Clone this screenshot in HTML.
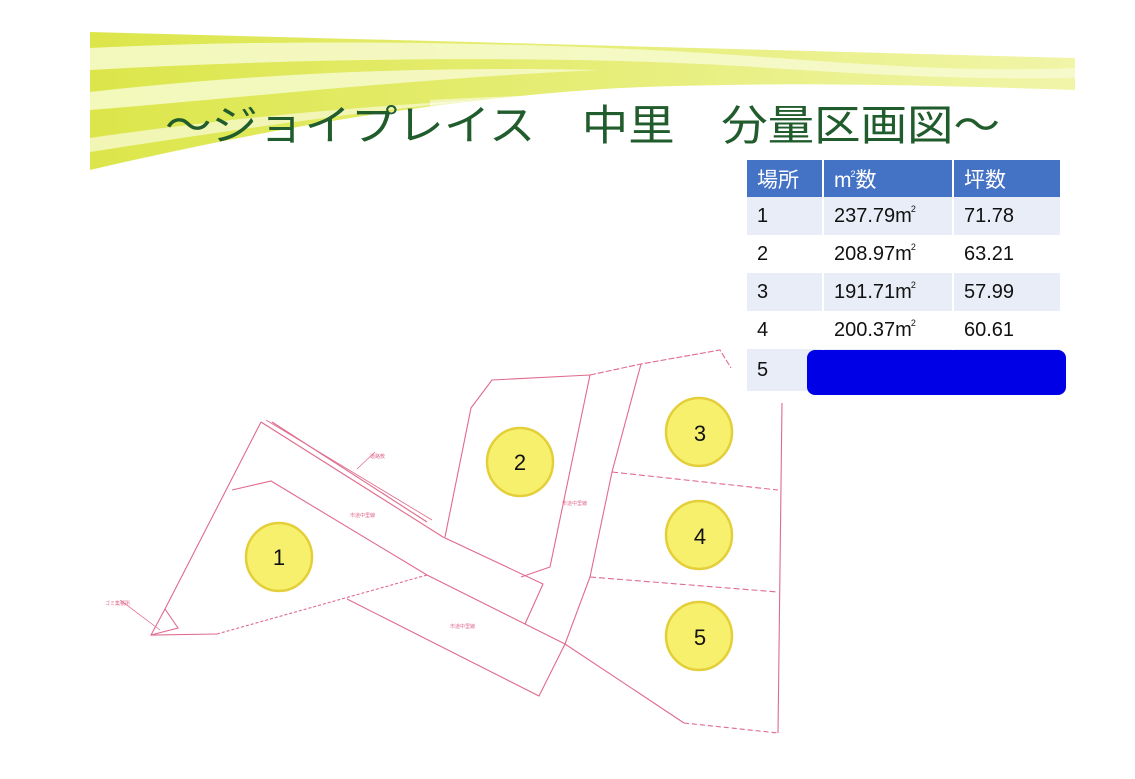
<!DOCTYPE html>
<html><head><meta charset="utf-8"><style>
body{margin:0;width:1135px;height:779px;background:#fff;overflow:hidden;position:relative;font-family:"Liberation Sans","Noto Sans CJK JP",sans-serif}
svg{position:absolute;left:0;top:0}
table{position:absolute;left:747px;top:160px;border-collapse:collapse;font-size:20px;color:#111}
td{height:38px;padding:0 0 0 10px;border-right:2px solid #fff;box-sizing:border-box}
tr.h td{background:#4472c4;color:#fff;height:37px;font-size:21px}
tr.a td{background:#e8edf7}
sup{font-size:9px;vertical-align:10px;margin-left:-1px}
</style></head><body>
<svg width="1135" height="779">
<defs>
<linearGradient id="g1" x1="0" x2="1" y1="0" y2="0">
<stop offset="0" stop-color="#dce64a"/><stop offset="0.6" stop-color="#e8ef80"/><stop offset="1" stop-color="#f0f5a8"/></linearGradient>
</defs>
<path d="M90,32 L1075,58 L1075,90 C900,84 760,82 620,88 C420,100 240,135 90,170 Z" fill="url(#g1)"/>
<path d="M90,48 C300,38 550,42 750,56 C880,66 980,72 1075,68 L1075,78 C960,80 860,74 740,66 C550,55 300,58 90,70 Z" fill="#f7fad0" opacity="0.85"/>
<path d="M90,92 C250,74 420,66 600,70 C420,78 240,98 90,110 Z" fill="#f5f9c8" opacity="0.9"/>
<path d="M90,138 C200,122 330,108 480,100 C330,115 200,135 90,152 Z" fill="#f3f7c0" opacity="0.9"/>
<path d="M430,100 C650,88 900,92 1075,96 L1075,160 L430,160 Z" fill="#fff" opacity="0.5"/>
<text x="165" y="140" textLength="835" lengthAdjust="spacingAndGlyphs" font-family="Liberation Sans, Noto Sans CJK JP, sans-serif" font-size="42" fill="#215c2c">～ジョイプレイス　中里　分量区画図～</text>
<g stroke="#e06a8c" stroke-width="1.1" fill="none">
<polyline points="261,422 165,609 151,635 217,634"/>
<polyline points="217,634 427,575" stroke-dasharray="3,2"/>
<polyline points="232,490 271,481 427,575 565,644 684,723"/>
<polyline points="684,723 778,733" stroke-dasharray="5,3"/>
<polyline points="261,422 443,537 543,584 525,624"/>
<polyline points="272,422 427,522"/>
<polyline points="266,420 432,520" stroke-width="0.8"/>
<polyline points="165,609 178,628 151,635"/>
<polyline points="347,599 539,696 565,644 590,577 612,472 641,364"/>
<polyline points="445,537 471,408 492,380 590,375"/>
<polyline points="590,375 641,364 720,350 731,368" stroke-dasharray="6,2"/>
<polyline points="590,375 550,567 521,577"/>
<polyline points="782,403 778,733"/>
<polyline points="612,472 778,490" stroke-dasharray="6,3"/>
<polyline points="590,577 778,592" stroke-dasharray="6,3"/>
<polyline points="357,469 375,452" stroke-width="0.7"/>
<polyline points="120,600 160,630" stroke-width="0.7"/>
</g>
<g font-size="5" fill="#e06a8c"><text x="370" y="458">道路敷</text><text x="350" y="517">市道中里線</text><text x="450" y="628">市道中里線</text><text x="562" y="505">市道中里線</text><text x="105" y="605">ゴミ集積所</text></g>
<g fill="#f7f06c" stroke="#e4cf3a" stroke-width="2.5">
<ellipse cx="279" cy="557" rx="33" ry="34"/><ellipse cx="520" cy="462" rx="33" ry="34"/>
<ellipse cx="699" cy="432" rx="33" ry="34"/><ellipse cx="699" cy="535" rx="33" ry="34"/><ellipse cx="699" cy="636" rx="33" ry="34"/>
</g>
<g font-size="22" fill="#111" text-anchor="middle"><text x="279" y="565">1</text><text x="520" y="470">2</text><text x="700" y="441">3</text><text x="700" y="544">4</text><text x="700" y="645">5</text></g>
</svg>
<table>
<tr class="h"><td style="width:76px">場所</td><td style="width:130px">m<sup>2</sup>数</td><td style="width:108px">坪数</td></tr>
<tr class="a"><td>1</td><td>237.79m<sup>2</sup></td><td>71.78</td></tr>
<tr><td>2</td><td>208.97m<sup>2</sup></td><td>63.21</td></tr>
<tr class="a"><td>3</td><td>191.71m<sup>2</sup></td><td>57.99</td></tr>
<tr><td>4</td><td>200.37m<sup>2</sup></td><td>60.61</td></tr>
<tr class="a"><td style="height:42px">5</td><td></td><td></td></tr>
</table>
<div style="position:absolute;left:807px;top:350px;width:259px;height:45px;background:#0000e6;border-radius:8px"></div>
</body></html>
